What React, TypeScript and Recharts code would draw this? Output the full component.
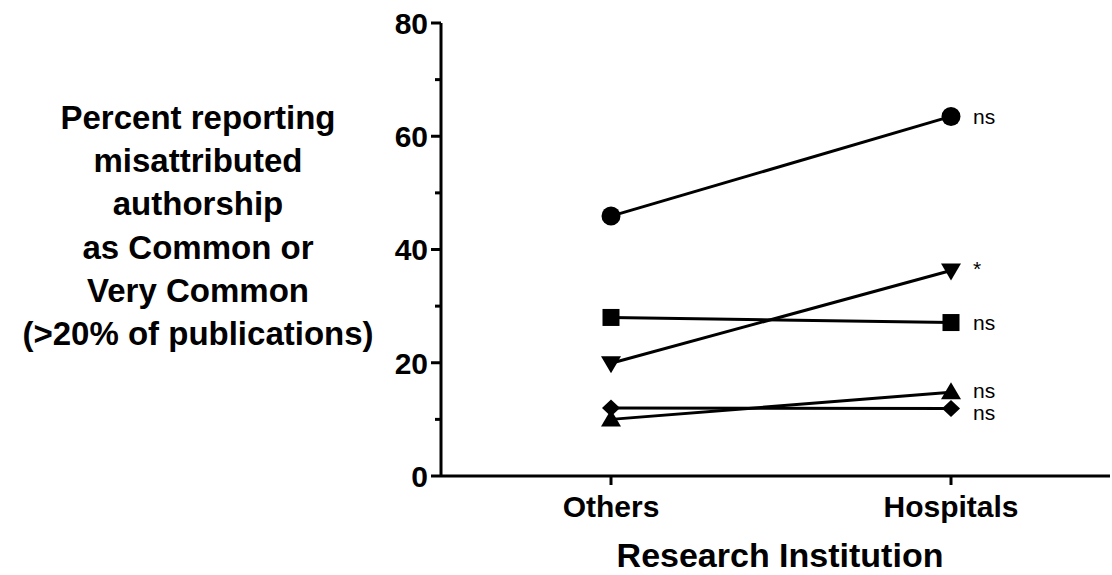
import { LineChart, Line, XAxis, YAxis, LabelList } from "recharts";

const categories = ["Others", "Hospitals"];
const circleValues = [45.9, 63.5];
const downTriangleValues = [19.9, 36.3];
const squareValues = [28.0, 27.1];
const upTriangleValues = [10.0, 14.8];
const diamondValues = [12.0, 11.9];
const sigLabels = ["ns", "*", "ns", "ns", "ns"];
const yTicks = [0, 10, 20, 30, 40, 50, 60, 70, 80];
const yTitleLines = [
  "Percent reporting",
  "misattributed",
  "authorship",
  "as Common or",
  "Very Common",
  "(>20% of publications)",
];

const FONT = '"Liberation Sans", Arial, Helvetica, sans-serif';

const data = categories.map((name, i) => ({
  name,
  circle: circleValues[i],
  down: downTriangleValues[i],
  square: squareValues[i],
  up: upTriangleValues[i],
  diamond: diamondValues[i],
}));

type Shape = "circle" | "down" | "square" | "up" | "diamond";

const series: { key: Shape; sig: string; labelDy: number }[] = [
  { key: "circle", sig: sigLabels[0], labelDy: 0 },
  { key: "down", sig: sigLabels[1], labelDy: -2 },
  { key: "square", sig: sigLabels[2], labelDy: 0 },
  { key: "up", sig: sigLabels[3], labelDy: -2 },
  { key: "diamond", sig: sigLabels[4], labelDy: 4 },
];

function Marker({ shape, cx, cy }: { shape: Shape; cx: number; cy: number }) {
  if (cx == null || cy == null) return null;
  switch (shape) {
    case "circle":
      return <circle cx={cx} cy={cy} r={9.5} fill="#000" />;
    case "square":
      return <rect x={cx - 8.5} y={cy - 8.5} width={17} height={17} fill="#000" />;
    case "down":
      return <polygon points={`${cx - 10},${cy - 7} ${cx + 10},${cy - 7} ${cx},${cy + 10}`} fill="#000" />;
    case "up":
      return <polygon points={`${cx - 10},${cy + 7} ${cx + 10},${cy + 7} ${cx},${cy - 10}`} fill="#000" />;
    default:
      return <polygon points={`${cx},${cy - 8.5} ${cx + 9},${cy} ${cx},${cy + 8.5} ${cx - 9},${cy}`} fill="#000" />;
  }
}

function YTick(props: any) {
  const { x, y, payload } = props;
  const major = payload.value % 20 === 0;
  const len = major ? 10 : 6;
  return (
    <g>
      <line x1={x - len} y1={y} x2={x} y2={y} stroke="#000" strokeWidth={3} />
      {major && (
        <text x={x - len - 3} y={y} dy="0.36em" textAnchor="end" fontFamily={FONT} fontWeight="bold" fontSize={30} fill="#000">
          {payload.value}
        </text>
      )}
    </g>
  );
}

function YTitle() {
  return (
    <text textAnchor="middle" fontFamily={FONT} fontWeight="bold" fontSize={33} fill="#000">
      {yTitleLines.map((line, i) => (
        <tspan key={line} x={198} y={129 + i * 43.2}>
          {line}
        </tspan>
      ))}
    </text>
  );
}

function XTitle() {
  return (
    <text x={780} y={567} textAnchor="middle" fontFamily={FONT} fontWeight="bold" fontSize={34} fill="#000">
      Research Institution
    </text>
  );
}

export default function App() {
  return (
    <div style={{ position: "absolute", left: 0, top: 0, background: "#fff" }}>
      <LineChart width={1112} height={575} data={data} margin={{ top: 23, right: 2, left: 0, bottom: 0 }}>
        <XAxis
          dataKey="name"
          scale="point"
          padding={{ left: 170, right: 159 }}
          height={99}
          axisLine={{ stroke: "#000", strokeWidth: 3 }}
          tickLine={{ stroke: "#000", strokeWidth: 3 }}
          tickSize={9}
          tickMargin={11}
          tick={{ fill: "#000", fontSize: 30, fontWeight: "bold", fontFamily: FONT }}
          label={<XTitle />}
        />
        <YAxis
          domain={[0, 80]}
          ticks={yTicks}
          interval={0}
          width={441}
          axisLine={{ stroke: "#000", strokeWidth: 3 }}
          tickLine={false}
          tickSize={0}
          tickMargin={0}
          tick={<YTick />}
          label={<YTitle />}
        />
        {series.map((s) => (
          <Line
            key={s.key}
            dataKey={s.key}
            stroke="#000"
            strokeWidth={3}
            isAnimationActive={false}
            dot={(p: any) => (
              <g key={`${s.key}-${p.index}`}>
                <Marker shape={s.key} cx={p.cx} cy={p.cy} />
              </g>
            )}
            activeDot={false}
          >
            <LabelList
              dataKey={s.key}
              content={(p: any) =>
                p.index === categories.length - 1 ? (
                  <text
                    x={p.x + 22}
                    y={p.y + s.labelDy}
                    dy="0.35em"
                    fontFamily={FONT}
                    fontSize={21}
                    fill="#000"
                  >
                    {s.sig}
                  </text>
                ) : null
              }
            />
          </Line>
        ))}
      </LineChart>
    </div>
  );
}
